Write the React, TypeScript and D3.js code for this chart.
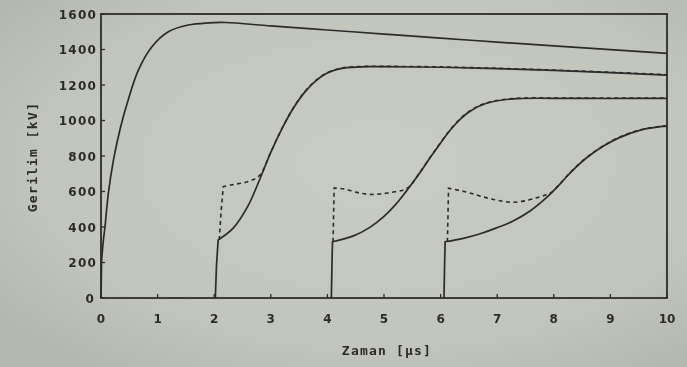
import React from "react";
import * as d3 from "d3";

// ---- data ----
const xTicks = [0, 1, 2, 3, 4, 5, 6, 7, 8, 9, 10];
const yTicks = [0, 200, 400, 600, 800, 1000, 1200, 1400, 1600];
const xLabel = "Zaman [μs]";
const yLabel = "Gerilim [kV]";

// curve starting at t = 0 (solid)
const curveA: [number, number][] = [
  [0, 0], [0.01, 210], [0.04, 320], [0.07, 400], [0.13, 590], [0.22, 777], [0.34, 955],
  [0.48, 1115], [0.66, 1284], [0.9, 1416], [1.19, 1500], [1.54, 1538], [1.9, 1550],
  [2.2, 1552], [3, 1533], [4, 1510], [5, 1487], [6, 1464], [7, 1442], [8, 1420],
  [9, 1399], [10, 1378],
];

// curve starting at t = 2
const curveBSolid: [number, number][] = [
  [2.02, 0], [2.04, 180], [2.07, 327], [2.34, 395], [2.6, 520], [2.8, 665], [3.0, 820],
  [3.2, 955], [3.4, 1070], [3.6, 1160], [3.8, 1225], [4.0, 1268], [4.3, 1296],
  [4.7, 1303], [5, 1303], [6, 1300], [7, 1292], [8, 1282], [9, 1270], [10, 1256],
];
const curveBDashed: [number, number][] = [
  [2.09, 327], [2.12, 480], [2.16, 627], [2.35, 640], [2.59, 655], [2.8, 690], [3.0, 822],
  [3.2, 957], [3.4, 1072], [3.6, 1162], [3.8, 1227], [4.0, 1270], [4.3, 1298],
  [4.7, 1305], [5, 1305], [6, 1302], [7, 1294], [8, 1284], [9, 1272], [10, 1258],
];

// curve starting at t = 4
const curveCSolid: [number, number][] = [
  [4.07, 0], [4.08, 180], [4.09, 317], [4.46, 350], [4.75, 398], [5.0, 460], [5.2, 525],
  [5.4, 605], [5.6, 690], [5.87, 815], [6.22, 965], [6.5, 1048], [6.81, 1097],
  [7.29, 1122], [8, 1125], [9, 1124], [10, 1125],
];
const curveCDashed: [number, number][] = [
  [4.1, 317], [4.11, 480], [4.12, 620], [4.3, 614], [4.52, 595], [4.72, 584], [4.93, 586],
  [5.14, 596], [5.32, 606], [5.45, 628], [5.6, 692], [5.87, 817], [6.22, 967],
  [6.5, 1050], [6.81, 1099], [7.29, 1124], [8, 1127], [9, 1126], [10, 1127],
];

// curve starting at t = 6
const curveDSolid: [number, number][] = [
  [6.06, 0], [6.07, 180], [6.08, 317], [6.4, 336], [6.7, 362], [6.99, 395], [7.29, 435],
  [7.58, 490], [7.87, 565], [8.08, 632], [8.29, 705], [8.58, 790], [8.9, 860],
  [9.17, 905], [9.5, 943], [9.88, 965], [10, 968],
];
const curveDDashed: [number, number][] = [
  [6.12, 317], [6.13, 460], [6.14, 618], [6.43, 599], [6.64, 580], [6.84, 562], [7.05, 548],
  [7.26, 539], [7.5, 548], [7.7, 565], [7.85, 580], [7.97, 598], [8.08, 634],
  [8.29, 707], [8.58, 792], [8.9, 862], [9.17, 907], [9.5, 945], [9.88, 967], [10, 970],
];

const solidSeries = [curveA, curveBSolid, curveCSolid, curveDSolid];
const dashedSeries = [curveBDashed, curveCDashed, curveDDashed];

// ---- layout ----
const W = 687;
const H = 367;
const M = { left: 101, right: 667, top: 14, bottom: 298 };
const INK = "#2c2c2a";

export default function App() {
  const x = d3.scaleLinear().domain([0, 10]).range([M.left, M.right]);
  const y = d3.scaleLinear().domain([0, 1600]).range([M.bottom, M.top]);
  const smooth = d3
    .line<[number, number]>()
    .x((d) => x(d[0]))
    .y((d) => y(d[1]))
    .curve(d3.curveCatmullRom.alpha(0.5));
  const straight = d3
    .line<[number, number]>()
    .x((d) => x(d[0]))
    .y((d) => y(d[1]));

  // near-vertical start drawn straight, remainder smoothed
  const pathFor = (s: [number, number][], k = 3) =>
    straight(s.slice(0, k))! + smooth(s.slice(k - 1))!.replace(/^M/, "L");

  return (
    <svg
      width={W}
      height={H}
      style={{ position: "absolute", left: 0, top: 0, display: "block" }}
    >
      <defs>
        <radialGradient id="bg" cx="55%" cy="45%" r="70%">
          <stop offset="0%" stopColor="#c9ccc4" />
          <stop offset="70%" stopColor="#c1c5bc" />
          <stop offset="100%" stopColor="#b3b7ae" />
        </radialGradient>
        <filter id="soft" x="-5%" y="-5%" width="110%" height="110%">
          <feGaussianBlur stdDeviation="0.45" />
        </filter>
      </defs>
      <rect x={0} y={0} width={W} height={H} fill="url(#bg)" />

      <g filter="url(#soft)">
        <rect
          x={M.left}
          y={M.top}
          width={M.right - M.left}
          height={M.bottom - M.top}
          fill="none"
          stroke={INK}
          strokeWidth={1.8}
        />
        {xTicks.map((t) => (
          <line
            key={"xt" + t}
            x1={x(t)}
            x2={x(t)}
            y1={M.bottom}
            y2={M.bottom - 4}
            stroke={INK}
            strokeWidth={1.3}
          />
        ))}
        {yTicks.map((t) => (
          <line
            key={"yt" + t}
            x1={M.left}
            x2={M.left + 4}
            y1={y(t)}
            y2={y(t)}
            stroke={INK}
            strokeWidth={1.3}
          />
        ))}

        {solidSeries.map((s, i) => (
          <path
            key={"s" + i}
            d={i === 0 ? pathFor(s, 2) : pathFor(s)}
            fill="none"
            stroke={INK}
            strokeWidth={1.7}
          />
        ))}
        {dashedSeries.map((s, i) => (
          <path
            key={"d" + i}
            d={pathFor(s)}
            fill="none"
            stroke={INK}
            strokeWidth={1.6}
            strokeDasharray="4,3.5"
          />
        ))}

        {xTicks.map((t) => (
          <text
            key={"xl" + t}
            x={x(t)}
            y={323}
            textAnchor="middle"
            fontFamily="DejaVu Sans"
            fontWeight="bold"
            fontSize={12}
            fill={INK}
          >
            {t}
          </text>
        ))}
        {yTicks.map((t) => (
          <text
            key={"yl" + t}
            x={t === 0 ? 95 : 97}
            y={y(t) + 4.5}
            textAnchor="end"
            fontFamily="DejaVu Sans"
            fontWeight="bold"
            fontSize={12}
            letterSpacing={1.2}
            fill={INK}
          >
            {t}
          </text>
        ))}

        <text
          x={387}
          y={355}
          textAnchor="middle"
          fontFamily="DejaVu Sans Mono"
          fontWeight="bold"
          fontSize={13}
          letterSpacing={1.2}
          fill={INK}
        >
          {xLabel}
        </text>
        <text
          transform={`translate(37, 157) rotate(-90)`}
          textAnchor="middle"
          fontFamily="DejaVu Sans Mono"
          fontWeight="bold"
          fontSize={13}
          letterSpacing={1.4}
          fill={INK}
        >
          {yLabel}
        </text>
      </g>
    </svg>
  );
}
